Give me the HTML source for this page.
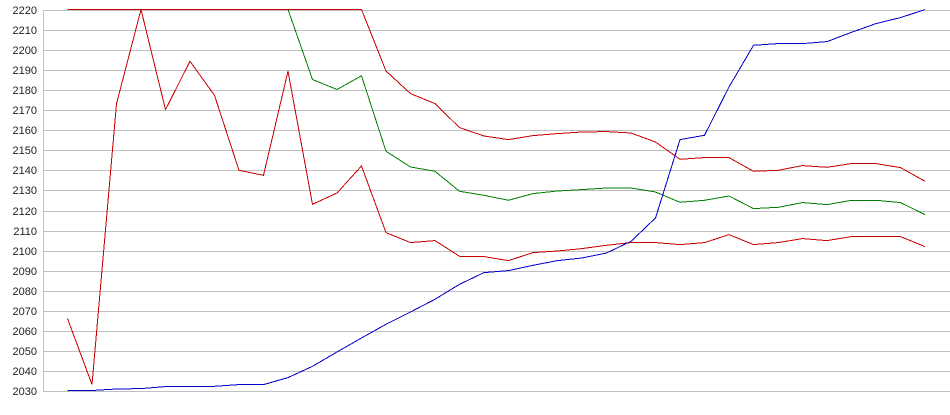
<!DOCTYPE html>
<html>
<head>
<meta charset="utf-8">
<style>
  html,body{margin:0;padding:0;background:#fff;}
  svg{display:block;}
  text{font-family:"Liberation Sans",Arial,sans-serif;font-size:11px;fill:#222;}
</style>
</head>
<body>
<svg width="950" height="415" viewBox="0 0 950 415" xmlns="http://www.w3.org/2000/svg">
  <rect x="0" y="0" width="950" height="415" fill="#fff"/>
  <g stroke="#c0c0c0" stroke-width="1" shape-rendering="crispEdges">
    <line x1="43" y1="10.5" x2="950" y2="10.5"/>
    <line x1="43" y1="30.5" x2="950" y2="30.5"/>
    <line x1="43" y1="50.5" x2="950" y2="50.5"/>
    <line x1="43" y1="70.5" x2="950" y2="70.5"/>
    <line x1="43" y1="90.5" x2="950" y2="90.5"/>
    <line x1="43" y1="110.5" x2="950" y2="110.5"/>
    <line x1="43" y1="130.5" x2="950" y2="130.5"/>
    <line x1="43" y1="150.5" x2="950" y2="150.5"/>
    <line x1="43" y1="170.5" x2="950" y2="170.5"/>
    <line x1="43" y1="190.5" x2="950" y2="190.5"/>
    <line x1="43" y1="211.5" x2="950" y2="211.5"/>
    <line x1="43" y1="231.5" x2="950" y2="231.5"/>
    <line x1="43" y1="251.5" x2="950" y2="251.5"/>
    <line x1="43" y1="271.5" x2="950" y2="271.5"/>
    <line x1="43" y1="291.5" x2="950" y2="291.5"/>
    <line x1="43" y1="311.5" x2="950" y2="311.5"/>
    <line x1="43" y1="331.5" x2="950" y2="331.5"/>
    <line x1="43" y1="351.5" x2="950" y2="351.5"/>
    <line x1="43" y1="371.5" x2="950" y2="371.5"/>
    <line x1="43" y1="391.5" x2="950" y2="391.5"/>
    <line x1="43.5" y1="10" x2="43.5" y2="392"/>
  </g>
  <g text-anchor="end">
    <text x="37" y="14">2220</text>
    <text x="37" y="34">2210</text>
    <text x="37" y="54">2200</text>
    <text x="37" y="74">2190</text>
    <text x="37" y="94">2180</text>
    <text x="37" y="114">2170</text>
    <text x="37" y="134">2160</text>
    <text x="37" y="154">2150</text>
    <text x="37" y="174">2140</text>
    <text x="37" y="194">2130</text>
    <text x="37" y="215">2120</text>
    <text x="37" y="235">2110</text>
    <text x="37" y="255">2100</text>
    <text x="37" y="275">2090</text>
    <text x="37" y="295">2080</text>
    <text x="37" y="315">2070</text>
    <text x="37" y="335">2060</text>
    <text x="37" y="355">2050</text>
    <text x="37" y="375">2040</text>
    <text x="37" y="395">2030</text>
  </g>
  <g fill="none" stroke-width="1" stroke-linejoin="miter" shape-rendering="crispEdges">
    <!-- green -->
    <polyline stroke="#008000" points="67.5,9.5 92,9.5 116.5,9.5 141,9.5 165.5,9.5 190,9.5 214.5,9.5 239,9.5 263.5,9.5 288,9.5 312.5,79.5 337,89.5 361.5,75.8 386,151.3 410.5,167 435,171.3 459.5,191.3 484,195.3 508.5,200.3 533,193.6 557.5,191 582,189.6 606.5,188 631,188 655.5,192 680,202.3 704.5,200.3 729,196 753.5,208.6 778,207.3 802.5,202.6 827,204.6 851.5,200.3 876,200.3 900.5,202.6 925,214.6"/>
    <!-- lower red -->
    <polyline stroke="#c80000" points="67.5,318.5 92,384.5 116.5,103.8 141,9.5 165.5,109.6 190,61.3 214.5,95.3 239,170.3 263.5,175.3 288,71.3 312.5,204.3 337,193 361.5,166 386,232.6 410.5,242.6 435,240.6 459.5,256.3 484,256.6 508.5,260.6 533,252.6 557.5,251 582,248.6 606.5,245.3 631,242.6 655.5,242.6 680,244.6 704.5,242.6 729,234.6 753.5,244.6 778,242.6 802.5,238.6 827,240.6 851.5,236.6 876,236.6 900.5,236.6 925,246.6"/>
    <!-- upper red -->
    <polyline stroke="#c80000" points="67.5,9.5 92,9.5 116.5,9.5 141,9.5 165.5,9.5 190,9.5 214.5,9.5 239,9.5 263.5,9.5 288,9.5 312.5,9.5 337,9.5 361.5,9.5 386,71 410.5,93.6 435,103.6 459.5,127.6 484,136 508.5,139.6 533,135.6 557.5,133.6 582,132 606.5,131.6 631,133 655.5,142 680,159.3 704.5,157.6 729,157.6 753.5,171.3 778,170.3 802.5,165.6 827,167.3 851.5,163.6 876,163.6 900.5,167.6 925,181.3"/>
    <!-- blue -->
    <polyline stroke="#0000c8" points="67.5,390.5 92,390.5 116.5,389 141,388.6 165.5,386.6 190,386.6 214.5,386.3 239,384.6 263.5,384.6 288,377.6 312.5,366.3 337,352 361.5,338 386,324.3 410.5,312 435,299.3 459.5,284.3 484,272.6 508.5,270.6 533,265.3 557.5,260.6 582,258 606.5,253 631,241.3 655.5,218 680,139.6 704.5,135.3 729,87 753.5,45.3 778,43.6 802.5,43.6 827,41.6 851.5,32.3 876,23.6 900.5,17.6 925,9.6"/>
  </g>
</svg>
</body>
</html>
